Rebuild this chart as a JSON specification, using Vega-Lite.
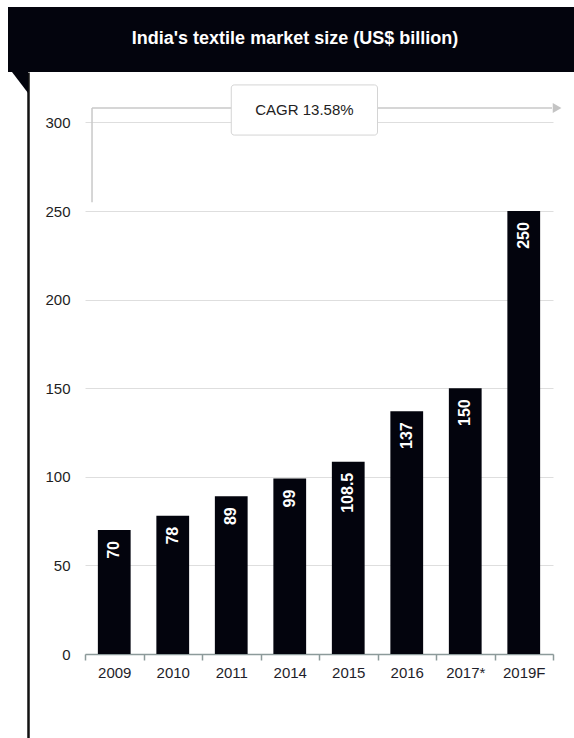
{
  "$schema": "https://vega.github.io/schema/vega-lite/v6.json",
  "background": "white",
  "padding": {"left": 8, "top": 7, "right": 0, "bottom": 0},
  "spacing": 0,
  "bounds": "flush",
  "config": {"view": {"stroke": null}, "font": "Liberation Sans"},
  "vconcat": [
    {
      "width": 566,
      "height": 65,
      "view": {"fill": "#03040d", "stroke": null},
      "data": {"values": [{"title": "India's textile market size (US$ billion)"}]},
      "mark": {"type": "text", "color": "white", "font": "Liberation Sans", "fontWeight": "bold", "fontSize": 18, "baseline": "middle", "align": "center", "dx": 4, "dy": -1},
      "encoding": {"text": {"field": "title", "type": "nominal"}}
    },
    {
      "width": 566,
      "height": 582,
      "resolve": {"scale": {"y": "independent"}, "axis": {"y": "independent"}},
      "layer": [
        {
          "data": {"values": [
            {"year": "2009", "value": 70},
            {"year": "2010", "value": 78},
            {"year": "2011", "value": 89},
            {"year": "2014", "value": 99},
            {"year": "2015", "value": 108.5},
            {"year": "2016", "value": 137},
            {"year": "2017*", "value": 150},
            {"year": "2019F", "value": 250}
          ]},
          "layer": [
            {
              "mark": {"type": "bar", "color": "#03040d", "width": {"band": 0.56}},
              "encoding": {
                "x": {"field": "year", "type": "nominal", "sort": null,
                  "scale": {"range": [77, 545], "paddingInner": 0, "paddingOuter": 0},
                  "axis": {"orient": "bottom", "title": null, "labelAngle": 0, "tickBand": "extent", "domainColor": "#8c9a9a", "tickColor": "#8c9a9a", "tickSize": 6, "domainWidth": 1.5, "tickWidth": 1.5, "labelFontSize": 15, "labelColor": "#1e1e2a", "labelPadding": 5, "grid": false}},
                "y": {"field": "value", "type": "quantitative",
                  "scale": {"domain": [0, 328.5], "nice": false},
                  "axis": {"orient": "left", "offset": -77, "values": [0, 50, 100, 150, 200, 250, 300], "ticks": false, "domain": false, "labelPadding": 15, "labelFontSize": 15, "labelColor": "#1e1e1e", "gridColor": "#dedede", "gridWidth": 1, "title": null}}
              }
            },
            {
              "mark": {"type": "text", "angle": 270, "align": "right", "baseline": "middle", "dx": -11, "fontSize": 16, "fontWeight": "bold", "color": "white"},
              "encoding": {
                "x": {"field": "year", "type": "nominal", "sort": null},
                "y": {"field": "value", "type": "quantitative"},
                "text": {"field": "value", "type": "quantitative"}
              }
            },
            {
              "data": {"values": [{"note": "CAGR"}]},
              "mark": {"type": "rule", "color": "#c9c9c9", "strokeWidth": 1.5},
              "encoding": {
                "x": {"datum": "2009", "type": "nominal", "bandPosition": 0.12},
                "y": {"datum": 255, "type": "quantitative"},
                "y2": {"datum": 308.2}
              }
            },
            {
              "data": {"values": [{"note": "CAGR"}]},
              "mark": {"type": "rule", "color": "#c9c9c9", "strokeWidth": 1.5},
              "encoding": {
                "x": {"datum": "2009", "type": "nominal", "bandPosition": 0.12},
                "x2": {"datum": "2019F", "bandPosition": 0.983},
                "y": {"datum": 308.2, "type": "quantitative"}
              }
            },
            {
              "data": {"values": [{"note": "CAGR"}]},
              "mark": {"type": "point", "shape": "triangle-right", "size": 100, "filled": true, "opacity": 1, "color": "#c4c4c4"},
              "encoding": {
                "x": {"datum": "2019F", "type": "nominal", "bandPosition": 1.07},
                "y": {"datum": 308.2, "type": "quantitative"}
              }
            },
            {
              "data": {"values": [{"note": "CAGR"}]},
              "mark": {"type": "rect", "fill": "white", "stroke": "#d4d4d4", "strokeWidth": 1, "cornerRadius": 3},
              "encoding": {
                "x": {"datum": "2011", "type": "nominal", "bandPosition": 0.5},
                "x2": {"datum": "2015", "bandPosition": 1.0},
                "y": {"datum": 292.9, "type": "quantitative"},
                "y2": {"datum": 321.2}
              }
            },
            {
              "data": {"values": [{"label": "CAGR 13.58%"}]},
              "mark": {"type": "text", "fontSize": 15, "color": "#222222", "baseline": "middle", "align": "center"},
              "encoding": {
                "x": {"datum": "2014", "type": "nominal", "bandPosition": 0.75},
                "y": {"datum": 307, "type": "quantitative"},
                "text": {"field": "label", "type": "nominal"}
              }
            },
            {
              "data": {"values": [{"note": "fold"}]},
              "mark": {"type": "point", "shape": "M-0.762,-1L0.762,-1L0.762,1Z", "size": 441, "filled": true, "opacity": 1, "color": "#03040d"},
              "encoding": {
                "x": {"datum": "2009", "type": "nominal", "bandPosition": -1.111},
                "y": {"datum": 322.6, "type": "quantitative"}
              }
            }
          ]
        },
        {
          "data": {"values": [{"edge": "left"}]},
          "mark": {"type": "rule", "opacity": 0},
          "encoding": {
            "y": {"datum": 0, "type": "quantitative",
              "scale": {"domain": [0, 1], "range": [666, 0]},
              "axis": {"orient": "left", "offset": -20, "domainColor": "#111111", "domainWidth": 2.5, "ticks": false, "labels": false, "grid": false, "title": null}}
          }
        }
      ]
    }
  ]
}
